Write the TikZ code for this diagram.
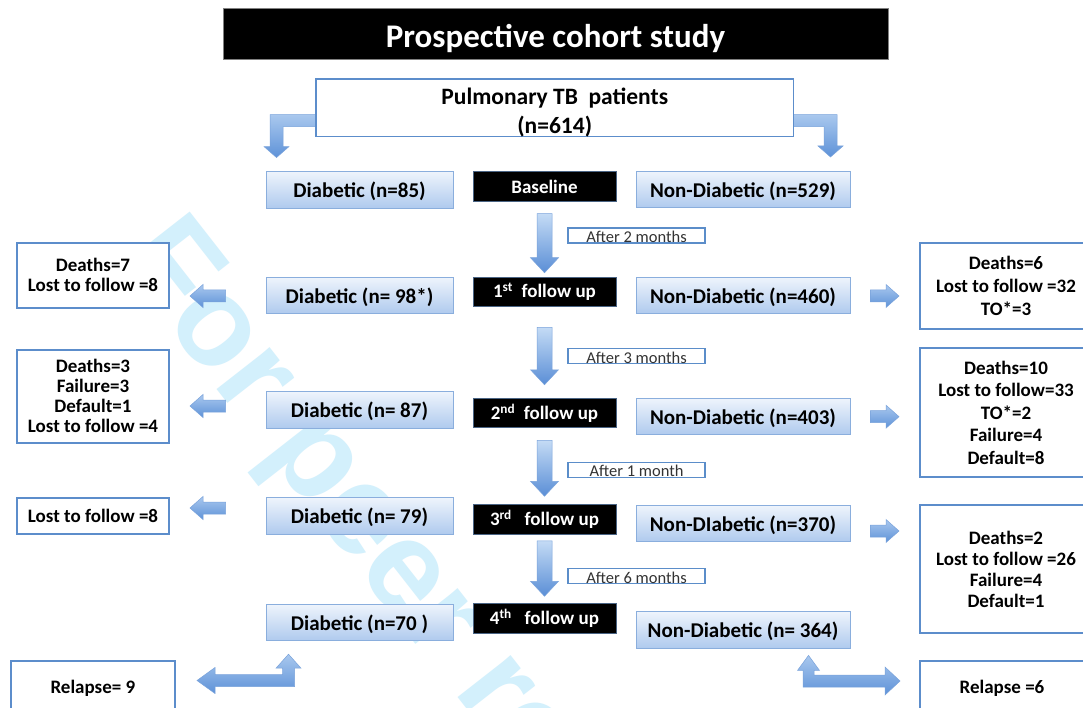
\documentclass[tikz,border=0pt]{standalone}
\usepackage{fontspec}
\setmainfont{Carlito}
\newfontfamily\wmfont{Liberation Sans}
\usetikzlibrary{calc,shadings}

\definecolor{boxtop}{HTML}{EEF4FC}
\definecolor{boxbot}{HTML}{AFCAEE}
\definecolor{boxedge}{HTML}{8AAEDD}
\definecolor{oedge}{HTML}{5C8DCB}
\definecolor{stepedge}{HTML}{4A6484}
\definecolor{lbledge}{HTML}{5B8DC9}
\definecolor{labelgray}{HTML}{333333}
\definecolor{arrtop}{HTML}{C4DBF5}
\definecolor{arrbot}{HTML}{5A8ED6}
\definecolor{harrtop}{HTML}{A9C8EE}
\definecolor{harrbot}{HTML}{5E92D8}
\definecolor{arredge}{HTML}{7AA3DB}
\definecolor{wmcyan}{HTML}{D3F0FC}

\newcommand\fsz[2]{\fontsize{#1}{#2}\selectfont}

% block arrow pointing down: #1 top centre, #2 tip
\newcommand\downblock[2]{%
  \shade[vshade] let \p1=#1, \p2=#2 in
    (\x1-7.5pt,\y1) -- (\x1+7.5pt,\y1) -- (\x1+7.5pt,\y2+15pt) -- (\x1+14pt,\y2+15pt)
    -- (\x1,\y2) -- (\x1-14pt,\y2+15pt) -- (\x1-7.5pt,\y2+15pt) -- cycle;}
% block arrow pointing left: #1 tail centre, #2 tip (x only)
\newcommand\leftblock[2]{%
  \shade[hshade] let \p1=#1, \p2=#2 in
    (\x1,\y1+6pt) -- (\x2+13pt,\y1+6pt) -- (\x2+13pt,\y1+11.5pt) -- (\x2,\y1)
    -- (\x2+13pt,\y1-11.5pt) -- (\x2+13pt,\y1-6pt) -- (\x1,\y1-6pt) -- cycle;}
% block arrow pointing right: #1 tail centre, #2 tip (x only)
\newcommand\rightblock[2]{%
  \shade[hshade] let \p1=#1, \p2=#2 in
    (\x1,\y1+6pt) -- (\x2-13pt,\y1+6pt) -- (\x2-13pt,\y1+11.5pt) -- (\x2,\y1)
    -- (\x2-13pt,\y1-11.5pt) -- (\x2-13pt,\y1-6pt) -- (\x1,\y1-6pt) -- cycle;}

\begin{document}
\begin{tikzpicture}[x=1pt,y=-1pt,
  diab/.style={draw=boxedge, line width=0.9pt, top color=boxtop, bottom color=boxbot,
    minimum width=187pt, minimum height=36.5pt, inner sep=0pt, text depth=0pt,
    font=\fsz{21}{25}\bfseries},
  nond/.style={diab, minimum width=214pt},
  stepbox/.style={fill=black, draw=stepedge, line width=1pt, text=white,
    minimum width=143pt, minimum height=29.5pt, inner sep=0pt, font=\fsz{19}{21}\bfseries},
  outbox/.style={draw=oedge, line width=2pt, fill=white, align=center, inner sep=0pt,
    font=\fsz{19}{21.5}\bfseries},
  lblbox/.style={draw=lbledge, line width=1.2pt, fill=white, minimum width=137pt,
    minimum height=15pt, inner sep=0pt},
  lbltext/.style={anchor=base, inner sep=0pt, text=labelgray, font=\fsz{16.5}{18}},
  vshade/.style={top color=arrtop, bottom color=arrbot, draw=arredge, line width=0.5pt},
  hshade/.style={top color=harrtop, bottom color=harrbot, draw=arredge, line width=0.5pt},
  wm/.style={text=wmcyan, inner sep=0pt, font=\wmfont\bfseries\fsz{128}{128}}
]
\path[use as bounding box] (0,0) rectangle (1083,708);
\clip (0,0) rectangle (1083,708);
\fill[white] (0,0) rectangle (1083,708);

% background stamp
\node[wm, rotate=-52, anchor=base west] (stamp) at (115,259) {For peer review};

% heading
\node[fill=black, draw=gray, line width=0.8pt, text=white, minimum width=665pt,
  minimum height=51pt, inner sep=0pt, text height=28pt, text depth=0pt,
  font=\fsz{33}{36}\bfseries] (title) at (555.5,33.8)
  {Prospective cohort study};

% rows: diabetic, visit, non-diabetic
\node[diab] (d0) at (359.5,189.75) {Diabetic (n=85)};
\node[diab] (d1) at (359.5,295.5) {Diabetic (n= 98*)};
\node[diab] (d2) at (359.5,410) {Diabetic (n= 87)};
\node[diab] (d3) at (359.5,516) {Diabetic (n= 79)};
\node[diab] (d4) at (359.5,622.5) {Diabetic (n=70 )};

\node[stepbox] (bk0) at (544.5,186.5) {Baseline};
\node[stepbox] (bk1) at (544.5,292) {1\textsuperscript{st}\ \ follow up};
\node[stepbox] (bk2) at (544.5,413) {2\textsuperscript{nd}\ \ follow up};
\node[stepbox] (bk3) at (544.5,519.5) {3\textsuperscript{rd}\ \ \ follow up};
\node[stepbox] (bk4) at (544.5,618.5) {4\textsuperscript{th}\ \ \ follow up};

\node[nond] (n0) at (743,189.7) {Non-Diabetic (n=529)};
\node[nond] (n1) at (743,295.5) {Non-Diabetic (n=460)};
\node[nond] (n2) at (743,416.5) {Non-Diabetic (n=403)};
\node[nond] (n3) at (743,523.5) {Non-DIabetic (n=370)};
\node[nond] (n4) at (743,630) {Non-Diabetic (n= 364)};

% outcome boxes, diabetic side
\node[outbox, minimum width=152pt, minimum height=65pt, font=\fsz{19}{20}\bfseries] (lo1) at (93,275.2)
  {Deaths=7\\Lost to follow =8};
\node[outbox, minimum width=152pt, minimum height=92.7pt, font=\fsz{19}{20}\bfseries] (lo2) at (93,396.3)
  {Deaths=3\\Failure=3\\Default=1\\Lost to follow =4};
\node[outbox, minimum width=152pt, minimum height=36.6pt] (lo3) at (93,516)
  {Lost to follow =8};
\node[outbox, minimum width=164.3pt, minimum height=55pt] (lr) at (92.85,688.5)
  {Relapse= 9};

% outcome boxes, non-diabetic side
\node[outbox, minimum width=172pt, minimum height=86.6pt, font=\fsz{19}{23}\bfseries] (ro1) at (1006,286)
  {Deaths=6\\Lost to follow =32\\TO*=3};
\node[outbox, minimum width=172pt, minimum height=128.4pt, font=\fsz{19}{22.5}\bfseries] (ro2) at (1006,412.5)
  {Deaths=10\\Lost to follow=33\\TO*=2\\Failure=4\\Default=8};
\node[outbox, minimum width=172pt, minimum height=128.3pt, font=\fsz{19}{20.8}\bfseries] (ro3) at (1006,569.2)
  {Deaths=2\\Lost to follow =26\\Failure=4\\Default=1};
\node[outbox, minimum width=172pt, minimum height=55pt] (rr) at (1006,688.5)
  {\hspace*{-8pt}Relapse =6};

% split of the population into the two groups
\coordinate (pw) at (326.5,120.75);
\coordinate (pe) at (783.5,120.75);
\coordinate (tl) at ($(d0.north)+(-83,-13.5)$);
\coordinate (tr) at ($(n0.north)+(87.5,-14)$);
\shade[hshade] let \p1=(pw), \p2=(tl) in
  (\x1,\y1+6pt) -- (\x2-6.5pt,\y1+6pt) -- (\x2-6.5pt,\y2+11pt) -- (\x2-12.5pt,\y2+11pt)
  -- (\x2,\y2) -- (\x2+12.5pt,\y2+11pt) -- (\x2+6.5pt,\y2+11pt) -- (\x2+6.5pt,\y1-6pt)
  -- (\x1,\y1-6pt) -- cycle;
\shade[hshade] let \p1=(pe), \p2=(tr) in
  (\x1,\y1+6pt) -- (\x2+6.5pt,\y1+6pt) -- (\x2+6.5pt,\y2+11pt) -- (\x2+12.5pt,\y2+11pt)
  -- (\x2,\y2) -- (\x2-12.5pt,\y2+11pt) -- (\x2-6.5pt,\y2+11pt) -- (\x2-6.5pt,\y1-6pt)
  -- (\x1,\y1-6pt) -- cycle;
\node[draw=oedge, line width=1.6pt, fill=white, minimum width=477.5pt, minimum height=57.5pt,
  inner sep=0pt] (p) at (554.75,107.75) {};
\node[align=center, inner sep=0pt, font=\fsz{23.5}{28.5}\bfseries] (ptext) at ($(p.center)+(0,5)$)
  {Pulmonary TB\ \ patients\\(n=614)};

% time between visits
\downblock{($(bk0.south)+(0,12)$)}{($(bk1.north)+(0,-4)$)}
\downblock{($(bk1.south)+(0,20)$)}{($(bk2.north)+(0,-13)$)}
\downblock{($(bk2.south)+(0,12)$)}{($(bk3.north)+(0,-8)$)}
\downblock{($(bk3.south)+(0,6)$)}{($(bk4.north)+(0,-7)$)}

\node[lblbox] (t1) at (636.5,235.5) {};
\node[lblbox] (t2) at (636.5,356.3) {};
\node[lblbox] (t3) at (636.5,469.8) {};
\node[lblbox] (t4) at (636.5,576.3) {};
\node[lbltext] (t1x) at ($(t1.south)+(0,-1)$) {After 2 months};
\node[lbltext] (t2x) at ($(t2.south)+(0,-1)$) {After 3 months};
\node[lbltext] (t3x) at ($(t3.south)+(0,-1)$) {After 1 month};
\node[lbltext] (t4x) at ($(t4.south)+(0,-1)$) {After 6 months};

% losses at each visit
\leftblock{($(d1.west)+(-40,0.5)$)}{($(lo1.east)+(20,0)$)}
\leftblock{($(d2.west)+(-40,-4)$)}{($(lo2.east)+(20,0)$)}
\leftblock{($(d3.west)+(-40,-8)$)}{($(lo3.east)+(20,0)$)}
\rightblock{($(n1.east)+(20,0.5)$)}{($(ro1.west)+(-20,0)$)}
\rightblock{($(n2.east)+(20,0.2)$)}{($(ro2.west)+(-20,0)$)}
\rightblock{($(n3.east)+(20,7.5)$)}{($(ro3.west)+(-20,0)$)}

% relapses after the last visit
\shade[hshade] let \p1=($(d4.south)+(-71,13)$), \p2=($(lr.east)+(21,-8)$) in
  (\x1,\y1) -- (\x1+12.5pt,\y1-14pt) -- (\x1+6pt,\y1-14pt) -- (\x1+6pt,\y2-6pt)
  -- (\x2+18pt,\y2-6pt) -- (\x2+18pt,\y2-13pt) -- (\x2,\y2) -- (\x2+18pt,\y2+13pt)
  -- (\x2+18pt,\y2+6pt) -- (\x1-6pt,\y2+6pt) -- (\x1-6pt,\y1-14pt) -- (\x1-12.5pt,\y1-14pt) -- cycle;
\shade[hshade] let \p1=($(n4.south)+(65.5,6.7)$), \p2=($(rr.west)+(-19,-7.5)$) in
  (\x1,\y1) -- (\x1+11pt,\y1-15pt) -- (\x1+5.5pt,\y1-15pt) -- (\x1+5.5pt,\y2+6pt)
  -- (\x2-15pt,\y2+6pt) -- (\x2-15pt,\y2+14pt) -- (\x2,\y2) -- (\x2-15pt,\y2-14pt)
  -- (\x2-15pt,\y2-6pt) -- (\x1-5.5pt,\y2-6pt) -- (\x1-5.5pt,\y1-15pt) -- (\x1-11pt,\y1-15pt) -- cycle;
\end{tikzpicture}
\end{document}
